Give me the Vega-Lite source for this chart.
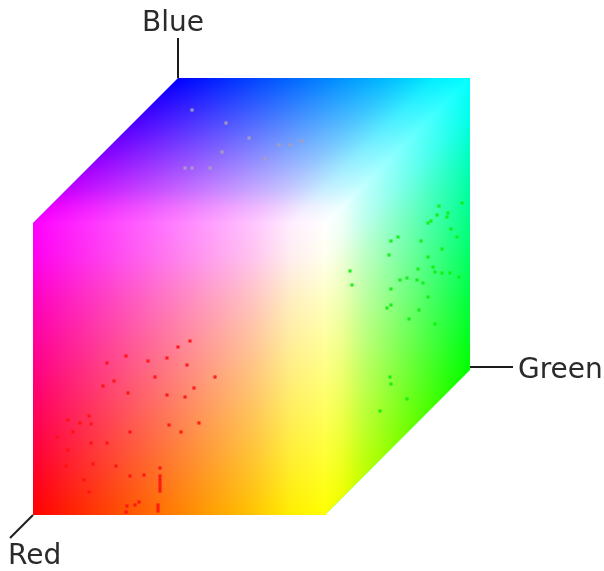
{"$schema":"https://vega.github.io/schema/vega-lite/v6.json","width":604,"height":571,"autosize":"none","padding":0,"background":"white","config":{"view":{"stroke":null}},
"datasets":{
"faces":[
{"face":"top","x":33,"y":223,"y2":225},{"face":"top","x":178,"y":78,"y2":225},{"face":"top","x":325,"y":78,"y2":225},{"face":"top","x":470,"y":78,"y2":80},
{"face":"front","x":33,"y":223,"y2":515},{"face":"front","x":326,"y":223,"y2":515},
{"face":"right","x":325,"y":223,"y2":515},{"face":"right","x":470,"y":78,"y2":370},
{"face":"seamTop","x":34,"y":222,"y2":224.5},{"face":"seamTop","x":325,"y":222,"y2":224.5},
{"face":"seamMid","x":324,"y":223,"y2":515},{"face":"seamMid","x":326.5,"y":223,"y2":515},
{"face":"seamDiag","x":325,"y":222,"y2":225},{"face":"seamDiag","x":469.5,"y":78,"y2":80.5}],
"leaders":[{"name":"Blue","x":178,"y":38,"x2":178,"y2":78},{"name":"Green","x":470,"y":367,"x2":513,"y2":367},{"name":"Red","x":33,"y":515,"x2":10,"y2":538}],
"labels":[{"name":"Blue","x":142,"y":31},{"name":"Green","x":518,"y":378},{"name":"Red","x":8,"y":564}],
"specks":[
{"k":"r","x":126,"y":356},{"k":"r","x":107,"y":363},{"k":"r","x":148,"y":361},{"k":"r","x":167,"y":358},{"k":"r","x":187,"y":365},{"k":"r","x":178,"y":347},{"k":"r","x":190,"y":341},{"k":"r","x":155,"y":377},{"k":"r","x":114,"y":381},{"k":"r","x":103,"y":386},{"k":"r","x":128,"y":393},{"k":"r","x":167,"y":395},{"k":"r","x":185,"y":397},{"k":"r","x":194,"y":388},{"k":"r","x":215,"y":377},{"k":"r","x":89,"y":416},{"k":"r","x":68,"y":420},{"k":"r","x":80,"y":423},{"k":"r","x":91,"y":424},{"k":"r","x":73,"y":432},{"k":"r","x":130,"y":432},{"k":"r","x":169,"y":425},{"k":"r","x":181,"y":432},{"k":"r","x":199,"y":423},{"k":"r","x":57,"y":437},{"k":"r","x":91,"y":443},{"k":"r","x":107,"y":443},{"k":"r","x":68,"y":450},{"k":"r","x":93,"y":464},{"k":"r","x":116,"y":466},{"k":"r","x":66,"y":466},{"k":"r","x":130,"y":476},{"k":"r","x":144,"y":475},{"k":"r","x":84,"y":480},{"k":"r","x":89,"y":492},{"k":"r","x":139,"y":502},{"k":"r","x":135,"y":505},{"k":"r","x":127,"y":506},{"k":"r","x":126,"y":512},{"k":"r","x":160,"y":468},{"k":"r","x":160,"y":476},{"k":"r","x":160,"y":479},{"k":"r","x":160,"y":482},{"k":"r","x":160,"y":485},{"k":"r","x":160,"y":488},{"k":"r","x":160,"y":491},{"k":"r","x":158,"y":505},{"k":"r","x":158,"y":508},{"k":"r","x":158,"y":511},
{"k":"g","x":350,"y":271},{"k":"g","x":352,"y":285},{"k":"g","x":391,"y":241},{"k":"g","x":398,"y":237},{"k":"g","x":389,"y":255},{"k":"g","x":421,"y":241},{"k":"g","x":428,"y":223},{"k":"g","x":431,"y":221},{"k":"g","x":437,"y":215},{"k":"g","x":439,"y":206},{"k":"g","x":447,"y":217},{"k":"g","x":448,"y":213},{"k":"g","x":462,"y":203},{"k":"g","x":451,"y":229},{"k":"g","x":457,"y":237},{"k":"g","x":442,"y":249},{"k":"g","x":428,"y":257},{"k":"g","x":418,"y":269},{"k":"g","x":433,"y":267},{"k":"g","x":435,"y":272},{"k":"g","x":442,"y":273},{"k":"g","x":450,"y":273},{"k":"g","x":459,"y":277},{"k":"g","x":400,"y":280},{"k":"g","x":407,"y":278},{"k":"g","x":417,"y":280},{"k":"g","x":423,"y":283},{"k":"g","x":391,"y":289},{"k":"g","x":428,"y":297},{"k":"g","x":387,"y":308},{"k":"g","x":391,"y":305},{"k":"g","x":419,"y":310},{"k":"g","x":409,"y":319},{"k":"g","x":435,"y":324},{"k":"g","x":390,"y":377},{"k":"g","x":391,"y":384},{"k":"g","x":407,"y":399},{"k":"g","x":380,"y":411},
{"k":"n","x":192,"y":110},{"k":"n","x":226,"y":123},{"k":"n","x":249,"y":138},{"k":"n","x":279,"y":145},{"k":"n","x":290,"y":145},{"k":"n","x":302,"y":141},{"k":"n","x":222,"y":152},{"k":"n","x":185,"y":168},{"k":"n","x":192,"y":168},{"k":"n","x":210,"y":168},{"k":"n","x":265,"y":159}]
},
"encoding":{"x":{"field":"x","type":"quantitative","scale":{"domain":[0,604]},"axis":null},"y":{"field":"y","type":"quantitative","scale":{"domain":[571,0]},"axis":null}},
"layer":[
{"data":{"name":"faces"},"transform":[{"filter":"datum.face=='top'"}],"mark":{"type":"area","color":"#0000ff"},"encoding":{"y2":{"field":"y2"}}},
{"data":{"name":"faces"},"transform":[{"filter":"datum.face=='top'"}],"mark":{"type":"area","blend":"screen","color":{"gradient":"linear","x1":0,"y1":0,"x2":0,"y2":1,"stops":[{"offset":0,"color":"#000000"},{"offset":0.75,"color":"#c40000"},{"offset":0.88,"color":"#ee0000"},{"offset":0.986,"color":"#ff0000"},{"offset":1,"color":"#ff0000"}]}},"encoding":{"y2":{"field":"y2"}}},
{"data":{"name":"faces"},"transform":[{"filter":"datum.face=='top'"}],"mark":{"type":"area","blend":"screen","color":{"gradient":"linear","x1":0,"y1":1,"x2":0.6019,"y2":1.1997,"stops":[{"offset":0,"color":"#000000"},{"offset":0.75,"color":"#00c400"},{"offset":0.88,"color":"#00ee00"},{"offset":1,"color":"#00ff00"}]}},"encoding":{"y2":{"field":"y2"}}},
{"data":{"name":"faces"},"transform":[{"filter":"datum.face=='front'"}],"mark":{"type":"area","color":"#ff0000"},"encoding":{"y2":{"field":"y2"}}},
{"data":{"name":"faces"},"transform":[{"filter":"datum.face=='front'"}],"mark":{"type":"area","blend":"screen","color":{"gradient":"linear","x1":0,"y1":0,"x2":1,"y2":0,"stops":[{"offset":0,"color":"#000000"},{"offset":0.75,"color":"#00c400"},{"offset":0.88,"color":"#00ee00"},{"offset":1,"color":"#00ff00"}]}},"encoding":{"y2":{"field":"y2"}}},
{"data":{"name":"faces"},"transform":[{"filter":"datum.face=='front'"}],"mark":{"type":"area","blend":"screen","color":{"gradient":"linear","x1":0,"y1":0,"x2":0,"y2":1,"stops":[{"offset":0,"color":"#0000ff"},{"offset":0.12,"color":"#0000ee"},{"offset":0.25,"color":"#0000c4"},{"offset":1,"color":"#000000"}]}},"encoding":{"y2":{"field":"y2"}}},
{"data":{"name":"faces"},"transform":[{"filter":"datum.face=='right'"}],"mark":{"type":"area","color":"#00ff00"},"encoding":{"y2":{"field":"y2"}}},
{"data":{"name":"faces"},"transform":[{"filter":"datum.face=='right'"}],"mark":{"type":"area","blend":"screen","color":{"gradient":"linear","x1":0,"y1":0,"x2":1,"y2":0,"stops":[{"offset":0,"color":"#ff0000"},{"offset":0.12,"color":"#ee0000"},{"offset":0.25,"color":"#c40000"},{"offset":1,"color":"#000000"}]}},"encoding":{"y2":{"field":"y2"}}},
{"data":{"name":"faces"},"transform":[{"filter":"datum.face=='right'"}],"mark":{"type":"area","blend":"screen","color":{"gradient":"linear","x1":1,"y1":0,"x2":1.1997,"y2":0.6019,"stops":[{"offset":0,"color":"#0000ff"},{"offset":0.12,"color":"#0000ee"},{"offset":0.25,"color":"#0000c4"},{"offset":1,"color":"#000000"}]}},"encoding":{"y2":{"field":"y2"}}},
{"data":{"name":"faces"},"transform":[{"filter":"datum.face=='seamTop'"}],"mark":{"type":"area","color":{"gradient":"linear","x1":0,"y1":0,"x2":1,"y2":0,"stops":[{"offset":0,"color":"#ff00ff"},{"offset":0.75,"color":"#ffc4ff"},{"offset":0.88,"color":"#ffeeff"},{"offset":1,"color":"#ffffff"}]}},"encoding":{"y2":{"field":"y2"}}},
{"data":{"name":"faces"},"transform":[{"filter":"datum.face=='seamMid'"}],"mark":{"type":"area","color":{"gradient":"linear","x1":0,"y1":0,"x2":0,"y2":1,"stops":[{"offset":0,"color":"#ffffff"},{"offset":0.12,"color":"#ffffee"},{"offset":0.25,"color":"#ffffc4"},{"offset":1,"color":"#ffff00"}]}},"encoding":{"y2":{"field":"y2"}}},
{"data":{"name":"faces"},"transform":[{"filter":"datum.face=='seamDiag'"}],"mark":{"type":"area","color":{"gradient":"linear","x1":0,"y1":0,"x2":1,"y2":0,"stops":[{"offset":0,"color":"#ffffff"},{"offset":0.12,"color":"#eeffff"},{"offset":0.25,"color":"#c4ffff"},{"offset":1,"color":"#00ffff"}]}},"encoding":{"y2":{"field":"y2"}}},
{"data":{"name":"specks"},"mark":{"type":"square","size":10,"opacity":0.9},"encoding":{"color":{"field":"k","type":"nominal","legend":null,"scale":{"domain":["r","g","n"],"range":["#ff1010","#10ee10","#a8a0b8"]}}}},
{"data":{"name":"leaders"},"mark":{"type":"rule","color":"#1a1a1a","strokeWidth":2},"encoding":{"x2":{"field":"x2"},"y2":{"field":"y2"}}},
{"data":{"name":"labels"},"mark":{"type":"text","font":"DejaVu Sans","fontSize":28,"align":"left","baseline":"alphabetic","color":"#2a2a2a"},"encoding":{"text":{"field":"name"}}}
]}
